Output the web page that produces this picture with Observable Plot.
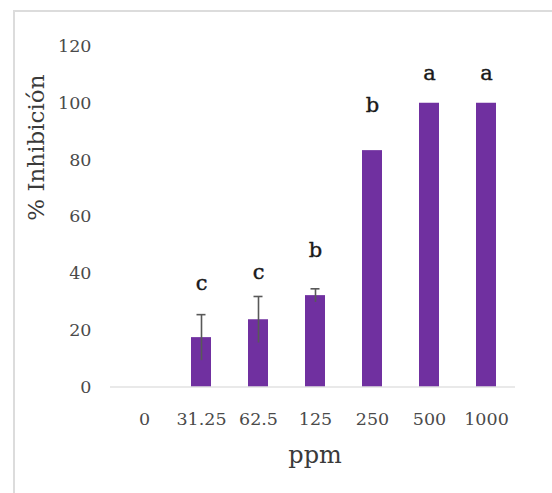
<!DOCTYPE html>
<html>
<head>
<meta charset="utf-8">
<script src="https://cdn.jsdelivr.net/npm/d3@7"></script>
<script src="https://cdn.jsdelivr.net/npm/@observablehq/plot@0.6"></script>
<style>
  html, body { margin: 0; padding: 0; background: #fff; }
  #wrap { position: relative; width: 552px; height: 493px; overflow: hidden; }
  #frame { position: absolute; left: 13px; top: 10px; width: 700px; height: 700px; border: 2px solid #dcdcdc; box-sizing: border-box; }
  #chart { position: absolute; left: 0; top: 0; }
</style>
</head>
<body>
<div id="wrap"><div id="frame"></div><div id="chart"></div></div>
<script>
const ppm = ["0", "31.25", "62.5", "125", "250", "500", "1000"];
const inhibition = [0, 17.4, 23.7, 32.2, 83.3, 100, 100];
const errors = [0, 8.1, 8.2, 2.4, 0, 0, 0];
const letters = ["", "c", "c", "b", "b", "a", "a"];
const letterAt = [0, 36.5, 40.3, 48.2, 99.2, 110.6, 110.6];
const yTicks = [0, 20, 40, 60, 80, 100, 120];
const xTitle = "ppm";
const yTitle = "% Inhibición";

const data = ppm.map((p, i) => ({ppm: p, v: inhibition[i], e: errors[i], letter: letters[i], ly: letterAt[i]}));
const withErr = data.filter(d => d.e > 0);
const withLetter = data.filter(d => d.letter);

const serif = "DejaVu Serif";
const chart = Plot.plot({
  width: 552,
  height: 493,
  marginLeft: 114.5,
  marginRight: 37.5,
  marginTop: 46,
  marginBottom: 106.5,
  style: {fontFamily: serif, background: "transparent", overflow: "visible"},
  x: {domain: ppm, paddingInner: 0.65, paddingOuter: 0.325, label: null},
  y: {domain: [0, 120], label: null},
  marks: [
    Plot.axisY({ticks: yTicks, tickSize: 0, tickPadding: 23.5, fontSize: 17.5, color: "#4a4a4a", label: null}),
    Plot.axisX({tickSize: 0, tickPadding: 25.5, fontSize: 17.5, color: "#4a4a4a", label: null}),
    Plot.barY(data, {x: "ppm", y: "v", fill: "#7030A0"}),
    Plot.ruleY([0], {stroke: "#d4d4d4", strokeWidth: 1.2, insetLeft: -4.5, insetRight: -0.5}),
    Plot.ruleX(withErr, {x: "ppm", y1: d => d.v - d.e, y2: d => d.v + d.e, stroke: "#595959", strokeWidth: 1.6}),
    Plot.tickY(withErr, {x: "ppm", y: d => d.v + d.e, stroke: "#595959", strokeWidth: 1.6, insetLeft: 5.5, insetRight: 5.5}),
    Plot.text(withLetter, {x: "ppm", y: "ly", text: "letter", fontSize: 21, fill: "#1a1a1a", fontWeight: "normal", stroke: "#1a1a1a", strokeWidth: 0.4}),
    Plot.text([xTitle], {frameAnchor: "bottom", dy: 75.5, text: d => d, fontSize: 24, fill: "#3a3a3a"}),
    Plot.text([yTitle], {frameAnchor: "left", dx: -78.5, dy: 4, rotate: -90, text: d => d, fontSize: 23, fill: "#3a3a3a"})
  ]
});
document.getElementById("chart").appendChild(chart);
</script>
</body>
</html>
